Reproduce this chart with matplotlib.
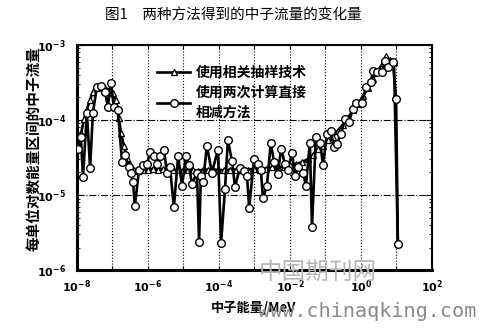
import numpy as np
import matplotlib.pyplot as plt
from matplotlib.ticker import LogLocator, FuncFormatter, NullFormatter, NullLocator

plt.rcParams['font.family'] = ['Noto Sans CJK SC', 'DejaVu Sans']
plt.rcParams['mathtext.fontset'] = 'dejavusans'
plt.rcParams['axes.unicode_minus'] = False

# values, stored as log10(energy / MeV) and log10(flux)
corr_log_e = [-7.97, -7.89, -7.80, -7.72, -7.63, -7.55, -7.44, -7.32, -7.21, -7.10,
              -6.99, -6.90, -6.82, -6.76, -6.68, -6.59, -6.51, -6.39, -6.28, -6.14,
              -6.00, -5.86, -5.72, -5.58, -5.44, -5.30, -5.15, -5.01, -4.87, -4.73,
              -4.59, -4.45, -4.31, -4.17, -4.03, -3.86, -3.69, -3.52, -3.35, -3.18,
              -3.01, -2.85, -2.68, -2.51, -2.34, -2.17, -2.00, -1.83, -1.66, -1.49,
              -1.35, -1.21, -1.07, -0.93, -0.79, -0.65, -0.51, -0.37, -0.23, -0.08,
              0.06, 0.20, 0.34, 0.48, 0.62, 0.70, 0.82, 0.93, 1.04]
corr_log_flux = [-4.32, -4.19, -3.99, -3.86, -3.73, -3.62, -3.57, -3.56, -3.57, -3.60,
                 -3.64, -3.73, -3.97, -4.17, -4.34, -4.50, -4.59, -4.66, -4.68, -4.67,
                 -4.66, -4.65, -4.66, -4.65, -4.66, -4.67, -4.66, -4.67, -4.66, -4.66,
                 -4.68, -4.66, -4.66, -4.66, -4.66, -4.67, -4.66, -4.66, -4.66, -4.66,
                 -4.65, -4.66, -4.65, -4.63, -4.63, -4.62, -4.60, -4.59, -4.56, -4.52,
                 -4.46, -4.39, -4.34, -4.27, -4.22, -4.14, -4.06, -3.97, -3.87, -3.78,
                 -3.68, -3.57, -3.45, -3.34, -3.24, -3.15, -3.20, -3.23, -5.65]

diff_log_e = [-7.97, -7.89, -7.83, -7.72, -7.63, -7.55, -7.44, -7.32, -7.21, -7.13,
              -7.04, -6.96, -6.85, -6.73, -6.65, -6.54, -6.48, -6.42, -6.37, -6.25,
              -6.14, -6.03, -5.94, -5.83, -5.75, -5.66, -5.55, -5.46, -5.38, -5.27,
              -5.15, -5.04, -4.93, -4.85, -4.76, -4.62, -4.56, -4.51, -4.45, -4.34,
              -4.20, -4.03, -3.94, -3.83, -3.75, -3.63, -3.55, -3.41, -3.30, -3.21,
              -3.15, -3.01, -2.90, -2.82, -2.76, -2.65, -2.54, -2.45, -2.34, -2.25,
              -2.14, -2.06, -1.94, -1.86, -1.77, -1.63, -1.55, -1.44, -1.38, -1.27,
              -1.15, -1.07, -0.96, -0.85, -0.76, -0.68, -0.56, -0.45, -0.34, -0.23,
              -0.14, 0.03, 0.14, 0.28, 0.34, 0.45, 0.59, 0.68, 0.76, 0.90,
              0.99, 1.04]
diff_log_flux = [-4.39, -4.23, -4.76, -3.90, -4.64, -3.90, -3.56, -3.54, -3.62, -3.82,
                 -3.50, -3.83, -3.86, -4.56, -4.46, -4.63, -4.70, -4.83, -5.15, -4.66,
                 -4.60, -4.59, -4.43, -4.48, -4.59, -4.48, -4.40, -4.71, -4.63, -5.16,
                 -4.48, -4.88, -4.48, -4.60, -4.85, -4.70, -5.62, -4.75, -4.83, -4.34,
                 -4.70, -4.40, -5.64, -4.92, -4.27, -4.55, -4.89, -4.64, -4.68, -4.74,
                 -5.17, -4.52, -4.59, -4.67, -5.04, -4.88, -4.30, -4.56, -4.72, -4.38,
                 -4.59, -4.66, -4.44, -4.75, -4.62, -4.70, -4.88, -4.30, -5.42, -4.22,
                 -4.30, -4.60, -4.19, -4.15, -4.36, -4.32, -4.18, -3.98, -4.03, -3.85,
                 -3.77, -3.77, -3.56, -3.49, -3.34, -3.36, -3.36, -3.21, -3.29, -3.23,
                 -3.72, -5.65]

corr_e = 10 ** np.array(corr_log_e)
corr_flux = 10 ** np.array(corr_log_flux)
diff_e = 10 ** np.array(diff_log_e)
diff_flux = 10 ** np.array(diff_log_flux)

fig = plt.figure(figsize=(4.84, 3.31), dpi=100)
ax = fig.add_axes([0.159, 0.184, 0.7335, 0.680])

ax.plot(corr_e, corr_flux, color='black', lw=1.9, marker='^', ms=4, mfc='white',
        mec='black', mew=0.9, label='使用相关抽样技术', zorder=3)
ax.plot(diff_e, diff_flux, color='black', lw=1.9, marker='o', ms=5.5, mfc='white',
        mec='black', mew=1.0, label='使用两次计算直接\n相减方法', zorder=4)

ax.set_xscale('log')
ax.set_yscale('log')
ax.set_xlim(1e-8, 1e2)
ax.set_ylim(1e-6, 1e-3)

ax.xaxis.set_major_locator(LogLocator(base=10, numticks=20))
ax.xaxis.set_minor_locator(NullLocator())


def x_label(v, pos):
    e = int(round(np.log10(v)))
    if e % 2:
        return ''
    return r'$\mathbf{10^{%d}}$' % e


ax.xaxis.set_major_formatter(FuncFormatter(x_label))
ax.yaxis.set_major_formatter(FuncFormatter(lambda v, p: r'$\mathbf{10^{%d}}$' % int(round(np.log10(v)))))
ax.yaxis.set_minor_formatter(NullFormatter())

ax.tick_params(which='both', direction='in', top=True, right=True, labelsize=8)
ax.tick_params(axis='x', which='major', length=3, pad=6)
ax.tick_params(axis='y', which='major', length=4, pad=8)
ax.tick_params(axis='y', which='minor', length=2)

ax.grid(axis='x', which='major', ls=':', lw=0.8, color='black')
for level in [1e-4, 1e-5]:
    ax.axhline(level, ls='-.', lw=0.8, color='black', zorder=1)

for side in ['left', 'bottom']:
    ax.spines[side].set_linewidth(2.2)
for side in ['right', 'top']:
    ax.spines[side].set_linewidth(1.5)

leg = ax.legend(loc='upper left', bbox_to_anchor=(0.19, 0.965), frameon=False,
                prop={'size': 10, 'weight': 'bold'}, handlelength=2.4,
                handletextpad=0.4, labelspacing=0.45)
for t in leg.get_texts():
    t.set_linespacing(1.5)

fig.text(0.483, 0.955, '图1　两种方法得到的中子流量的变化量', ha='center', va='center',
         fontsize=10.5)
fig.text(0.068, 0.55, '每单位对数能量区间的中子流量', rotation=90, ha='center',
         va='center', fontsize=10.5, fontweight='bold')
fig.text(0.523, 0.069, '中子能量/MeV', ha='center', va='center', fontsize=9.5,
         fontweight='bold')

# scan watermarks
fig.text(0.657, 0.178, '中国期刊网', ha='center', va='center', fontsize=17,
         color='#b5b5b5', fontweight='light', zorder=10)
fig.text(0.758, 0.060, 'www.chinaqking.com', ha='center', va='center', fontsize=14.5,
         color='#8a8a8a', family='DejaVu Sans Mono', zorder=10)

fig.savefig('out.png', dpi=100)
